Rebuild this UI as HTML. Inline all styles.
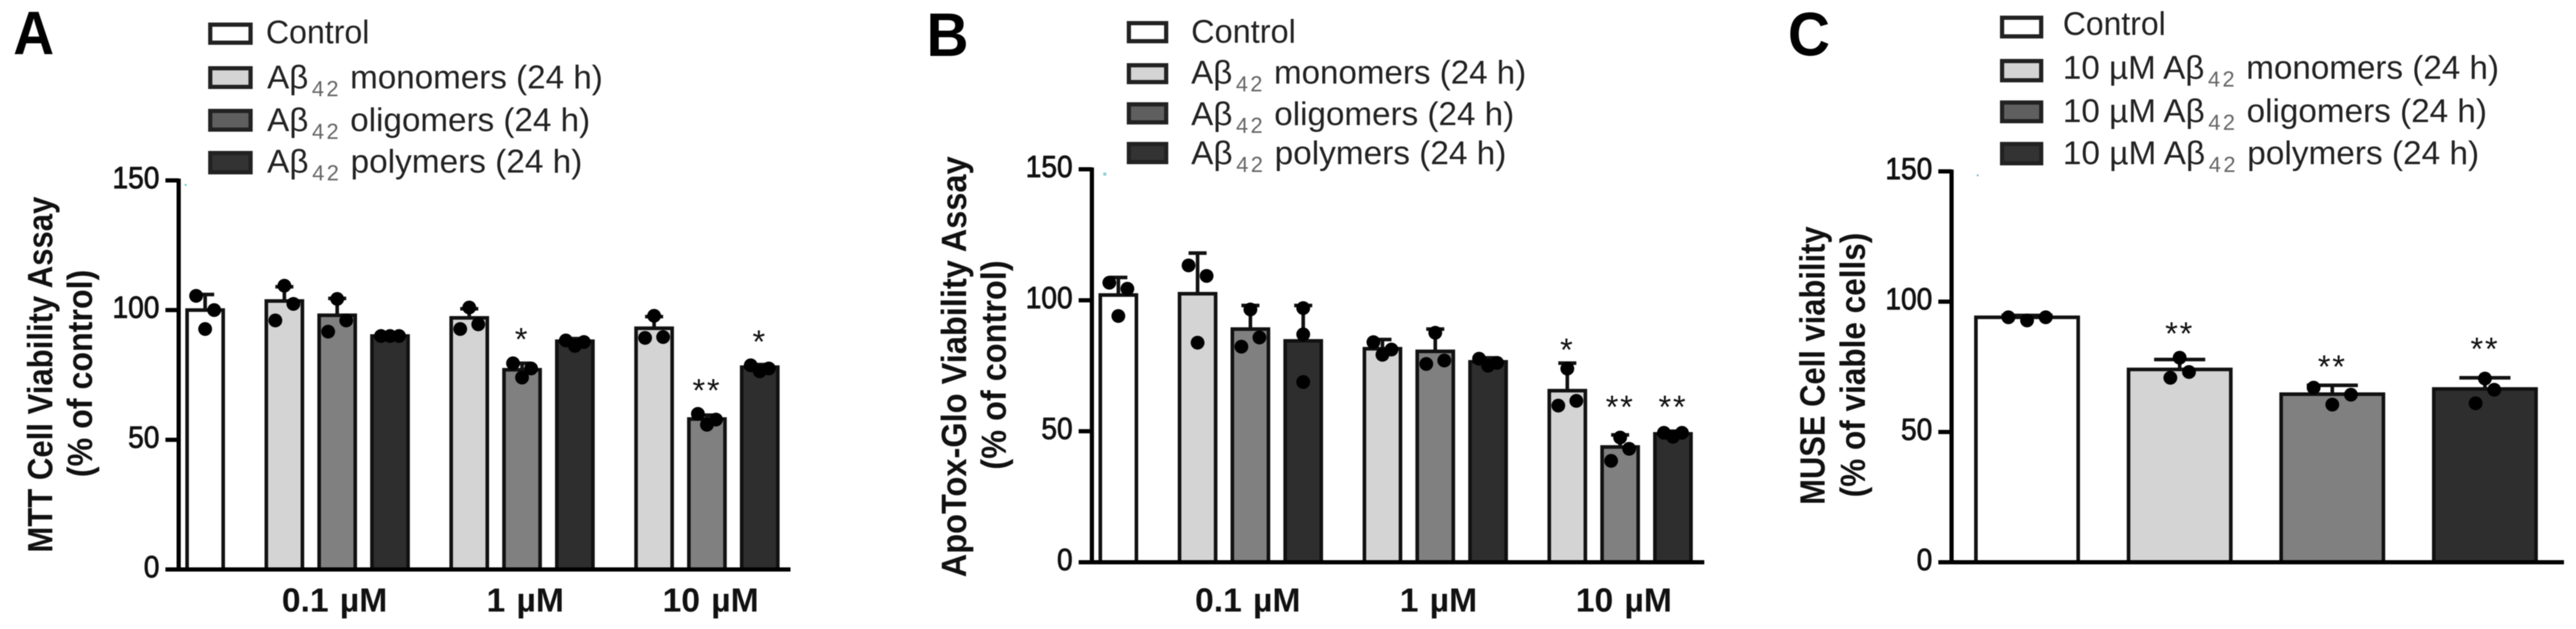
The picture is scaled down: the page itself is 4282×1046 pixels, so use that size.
<!DOCTYPE html>
<html lang="en">
<head>
<meta charset="utf-8">
<title>Aβ42 cell viability assays</title>
<style>
html,body{margin:0;padding:0;background:#fff;width:4282px;height:1046px;overflow:hidden}
svg{display:block;filter:blur(0.9px)}
text{font-family:"Liberation Sans","DejaVu Sans",sans-serif;fill:#111}
.letter{font-size:102px;font-weight:700;fill:#000}
.title{font-size:58px;font-weight:700;text-anchor:middle}
.leg{font-size:55px;fill:#222}
.sub{font-size:36px;fill:#666;letter-spacing:4px}
.swatch{stroke:#222;stroke-width:7}
</style>
</head>
<body>
<svg id="figure" xmlns="http://www.w3.org/2000/svg" width="4282" height="1046" viewBox="0 0 4282 1046">
  <rect width="4282" height="1046" fill="#fff"/>

  <!-- Panel A -->
  <g>
    <text class="letter" x="22" y="90" textLength="68" lengthAdjust="spacingAndGlyphs">A</text>
    <text class="title" transform="translate(87 623) rotate(-90)" textLength="592" lengthAdjust="spacingAndGlyphs">MTT Cell Viability Assay</text>
    <text class="title" transform="translate(153 621) rotate(-90)" textLength="345" lengthAdjust="spacingAndGlyphs">(% of control)</text>
    <g>
      <rect class="swatch" x="349.5" y="41" width="67" height="30" fill="#fff"/>
      <text class="leg" x="442" y="72" textLength="172" lengthAdjust="spacingAndGlyphs">Control</text>
      <rect class="swatch" x="349.5" y="113.5" width="67" height="31" fill="#d4d4d4"/>
      <text class="leg" x="444" y="147" textLength="558" lengthAdjust="spacingAndGlyphs">Aβ<tspan class="sub" dx="6" dy="13">42</tspan><tspan dy="-13"> monomers (24 h)</tspan></text>
      <rect class="swatch" x="349.5" y="184.5" width="67" height="31" fill="#5f5f5f"/>
      <text class="leg" x="444" y="218" textLength="537" lengthAdjust="spacingAndGlyphs">Aβ<tspan class="sub" dx="6" dy="13">42</tspan><tspan dy="-13"> oligomers (24 h)</tspan></text>
      <rect class="swatch" x="349.5" y="254.5" width="67" height="32" fill="#333"/>
      <text class="leg" x="444" y="287" textLength="524" lengthAdjust="spacingAndGlyphs">Aβ<tspan class="sub" dx="6" dy="13">42</tspan><tspan dy="-13"> polymers (24 h)</tspan></text>
    </g>
    <rect x="307" y="306" width="3" height="3" fill="#5cc"/>
    <g id="chartA"></g>
  </g>

  <!-- Panel B -->
  <g>
    <text class="letter" x="1540" y="93" textLength="70" lengthAdjust="spacingAndGlyphs">B</text>
    <text class="title" transform="translate(1606 610) rotate(-90)" textLength="700" lengthAdjust="spacingAndGlyphs">ApoTox-Glo Viability  Assay</text>
    <text class="title" transform="translate(1672 607) rotate(-90)" textLength="348" lengthAdjust="spacingAndGlyphs">(% of control)</text>
    <g>
      <rect class="swatch" x="1876.5" y="38.5" width="62" height="30" fill="#fff"/>
      <text class="leg" x="1980" y="71" textLength="174" lengthAdjust="spacingAndGlyphs">Control</text>
      <rect class="swatch" x="1876.5" y="108.5" width="62" height="28" fill="#d4d4d4"/>
      <text class="leg" x="1980" y="139" textLength="557" lengthAdjust="spacingAndGlyphs">Aβ<tspan class="sub" dx="6" dy="13">42</tspan><tspan dy="-13"> monomers (24 h)</tspan></text>
      <rect class="swatch" x="1876.5" y="173.5" width="62" height="30" fill="#5f5f5f"/>
      <text class="leg" x="1980" y="208" textLength="537" lengthAdjust="spacingAndGlyphs">Aβ<tspan class="sub" dx="6" dy="13">42</tspan><tspan dy="-13"> oligomers (24 h)</tspan></text>
      <rect class="swatch" x="1876.5" y="239.5" width="62" height="30" fill="#333"/>
      <text class="leg" x="1980" y="273" textLength="524" lengthAdjust="spacingAndGlyphs">Aβ<tspan class="sub" dx="6" dy="13">42</tspan><tspan dy="-13"> polymers (24 h)</tspan></text>
    </g>
    <rect x="1834" y="287" width="5" height="5" fill="#8cd"/>
    <g id="chartB"></g>
  </g>

  <!-- Panel C -->
  <g>
    <text class="letter" x="2972" y="92" textLength="70" lengthAdjust="spacingAndGlyphs">C</text>
    <text class="title" transform="translate(3033 608) rotate(-90)" textLength="463" lengthAdjust="spacingAndGlyphs">MUSE Cell viability</text>
    <text class="title" transform="translate(3100 607) rotate(-90)" textLength="440" lengthAdjust="spacingAndGlyphs">(% of viable cells)</text>
    <g>
      <rect class="swatch" x="3328" y="29.5" width="65" height="31" fill="#fff"/>
      <text class="leg" x="3429" y="58" textLength="171" lengthAdjust="spacingAndGlyphs">Control</text>
      <rect class="swatch" x="3328" y="101.5" width="65" height="32" fill="#d4d4d4"/>
      <text class="leg" x="3429" y="131" textLength="725" lengthAdjust="spacingAndGlyphs">10 µM Aβ<tspan class="sub" dx="6" dy="13">42</tspan><tspan dy="-13"> monomers (24 h)</tspan></text>
      <rect class="swatch" x="3328" y="170.5" width="65" height="31" fill="#5f5f5f"/>
      <text class="leg" x="3429" y="203" textLength="705" lengthAdjust="spacingAndGlyphs">10 µM Aβ<tspan class="sub" dx="6" dy="13">42</tspan><tspan dy="-13"> oligomers (24 h)</tspan></text>
      <rect class="swatch" x="3328" y="239.5" width="65" height="32" fill="#333"/>
      <text class="leg" x="3429" y="273" textLength="692" lengthAdjust="spacingAndGlyphs">10 µM Aβ<tspan class="sub" dx="6" dy="13">42</tspan><tspan dy="-13"> polymers (24 h)</tspan></text>
    </g>
    <rect x="3286" y="290" width="3" height="3" fill="#7bc"/>
    <g id="chartC"></g>
  </g>
</svg>

<script>
// ---- shared data ----
const yTickValues = [0, 50, 100, 150];
const doseLabels = ['0.1 µM', '1 µM', '10 µM'];
const treatments = ['control', 'monomers', 'oligomers', 'polymers'];

// ---- panel A: MTT (% of control) ----
const treatmentIndexA = [0, 1, 2, 3, 1, 2, 3, 1, 2, 3];
const meansA = [100, 103.5, 98, 90, 97, 77, 88, 93, 58, 78];
const sdA = [6, 5.5, 6.5, 0.3, 3.5, 2.5, 1, 4.5, 1.5, 1];
// each replicate triple is [left, centre, right]
const pointsA = [
  [105.5, 92.7, 100], [96, 109.4, 102.4], [91.7, 104.3, 96], [90, 90, 90],
  [92.7, 101, 94.5], [79.5, 74, 77.5], [88.3, 86.2, 87.7],
  [89.3, 97.8, 89.6], [60, 55.8, 57.8], [78.7, 76.4, 77.5]
];
const sigLabelsA = ['', '', '', '', '', '*', '', '', '**', '*'];
const sigLevelsA = [0, 0, 0, 0, 0, 91.5, 0, 0, 71.8, 90.5];

// ---- panel B: ApoTox-Glo (% of control) ----
const treatmentIndexB = [0, 1, 2, 3, 1, 2, 3, 1, 2, 3];
const meansB = [102, 102.5, 89, 84.5, 81.5, 80.5, 76.5, 65.5, 44, 49];
const sdB = [6.7, 15.5, 9, 13.5, 3.5, 8.5, 1.5, 10.5, 4.6, 1];
const pointsB = [
  [106.7, 94, 104.4], [113.3, 83.8, 109.3], [82.3, 96.5, 85.8], [97, 87, 68.8],
  [84, 79.2, 81.2], [75.7, 87.6, 77], [77.7, 75, 76.1],
  [59.8, 73.9, 61.6], [38.7, 47.6, 43.3], [49.4, 47.9, 49.4]
];
const sigLabelsB = ['', '', '', '', '', '', '', '*', '**', '**'];
const sigLevelsB = [0, 0, 0, 0, 0, 0, 0, 83.8, 62, 62];

// ---- panel C: MUSE (% of viable cells) ----
const treatmentIndexC = [0, 1, 2, 3];
const meansC = [94, 74, 64.5, 66.5];
const sdC = [0.7, 3.8, 3.4, 4.3];
const pointsC = [
  [94, 92.8, 94], [70.8, 78.5, 73], [67, 60.5, 64.3], [61, 70.5, 66.2]
];
const wideSwarmC = [true, false, true, false];
const sigLabelsC = ['', '**', '**', '**'];
const sigLevelsC = [0, 90.5, 77.8, 84.6];

// ---- rendering ----
const NS = 'http://www.w3.org/2000/svg';
const fillFor = { control: '#ffffff', monomers: '#d4d4d4', oligomers: '#808080', polymers: '#2e2e2e' };
const SLOTS_GROUPED = [0, 1.5, 2.5, 3.5, 5, 6, 7, 8.5, 9.5, 10.5];
const DOSE_SLOTS = [2.45, 6.06, 9.57];

function make(parent, tag, attrs, text) {
  const node = document.createElementNS(NS, tag);
  for (const key in attrs) node.setAttribute(key, attrs[key]);
  if (text !== undefined) node.textContent = text;
  parent.appendChild(node);
  return node;
}

function swarmOffsets(vals, base, wide) {
  const s = vals.slice().sort(function (a, b) { return a - b; });
  if (s[1] - s[0] > 8 && s[2] - s[1] > 8) return [0, 0, 0];
  const d = wide ? base * 2 : base;
  return [-d, 0, d];
}

function drawChart(p) {
  const root = document.getElementById(p.id);
  const y = function (v) { return p.y0 - v * (p.y0 - p.yTop) / 150; };
  const x = function (i) { return p.x0 + p.slots[i] * p.pitch; };

  p.means.forEach(function (m, i) {
    const kind = treatments[p.treat[i]];
    const g = make(root, 'g', {});
    
    
    const bar = make(g, 'rect', {
      x: x(i) - p.barW / 2, y: y(m), width: p.barW, height: p.y0 - y(m),
      fill: fillFor[kind], stroke: '#111', 'stroke-width': 6
    });
    
    

    const top = y(m + p.sd[i]);
    const stem = make(g, 'line', { x1: x(i), x2: x(i), y1: y(m), y2: top, stroke: '#111', 'stroke-width': 6 });
    
    
    const cap = make(g, 'line', { x1: x(i) - p.barW / 4, x2: x(i) + p.barW / 4, y1: top, y2: top, stroke: '#111', 'stroke-width': 6 });
    
    

    const offs = swarmOffsets(p.points[i], p.dotGap, p.wide ? p.wide[i] : false);
    p.points[i].forEach(function (v, k) {
      const dot = make(g, 'circle', { cx: x(i) + offs[k], cy: y(v), r: 11.5, fill: '#000' });
      
      
    });

    if (p.sigLabels[i]) {
      const star = make(g, 'text', {
        x: x(i), y: y(p.sigLevels[i]) + 30, 'text-anchor': 'middle',
        'font-size': 54, 'letter-spacing': 3, fill: '#222'
      }, p.sigLabels[i]);
      
      
    }
  });

  const yAxis = make(root, 'line', { x1: p.axisX, x2: p.axisX, y1: p.yTop - 3, y2: p.y0 + 3, stroke: '#000', 'stroke-width': 7 });
  
  
  const xAxis = make(root, 'line', { x1: p.axisX - 22, x2: p.axisEnd, y1: p.y0, y2: p.y0, stroke: '#000', 'stroke-width': 7 });
  
  

  yTickValues.forEach(function (t) {
    const tick = make(root, 'line', { x1: p.axisX - 22, x2: p.axisX, y1: y(t), y2: y(t), stroke: '#000', 'stroke-width': 7 });
    
    
    const label = make(root, 'text', {
      x: p.axisX - 32, y: y(t) + 13, 'text-anchor': 'end',
      'font-size': 51, stroke: '#111', 'stroke-width': 1.3,
      textLength: String(t).length * 26, lengthAdjust: 'spacingAndGlyphs'
    }, String(t));
    
    
  });

  if (p.doses) {
    p.doses.forEach(function (d, i) {
      const label = make(root, 'text', {
        x: p.x0 + DOSE_SLOTS[i] * p.pitch, y: 1017, 'text-anchor': 'middle',
        'font-size': 56, 'font-weight': 700, 'word-spacing': 3
      }, d);
      
      
    });
  }
}

drawChart({ id: 'chartA', x0: 341, pitch: 87.8, slots: SLOTS_GROUPED, barW: 60, y0: 947, yTop: 300, axisX: 297, axisEnd: 1314, dotGap: 15,
  treat: treatmentIndexA, means: meansA, sd: sdA, points: pointsA, sigLabels: sigLabelsA, sigLevels: sigLevelsA, doses: doseLabels });
drawChart({ id: 'chartB', x0: 1859, pitch: 87.8, slots: SLOTS_GROUPED, barW: 60, y0: 935, yTop: 281.5, axisX: 1815, axisEnd: 2833, dotGap: 15,
  treat: treatmentIndexB, means: meansB, sd: sdB, points: pointsB, sigLabels: sigLabelsB, sigLevels: sigLevelsB, doses: doseLabels });
drawChart({ id: 'chartC', x0: 3369.5, pitch: 253.7, slots: [0, 1, 2, 3], barW: 170, y0: 935, yTop: 285, axisX: 3244, axisEnd: 4262, dotGap: 15.5,
  treat: treatmentIndexC, means: meansC, sd: sdC, points: pointsC, wide: wideSwarmC, sigLabels: sigLabelsC, sigLevels: sigLevelsC, doses: null });
</script>
</body>
</html>
